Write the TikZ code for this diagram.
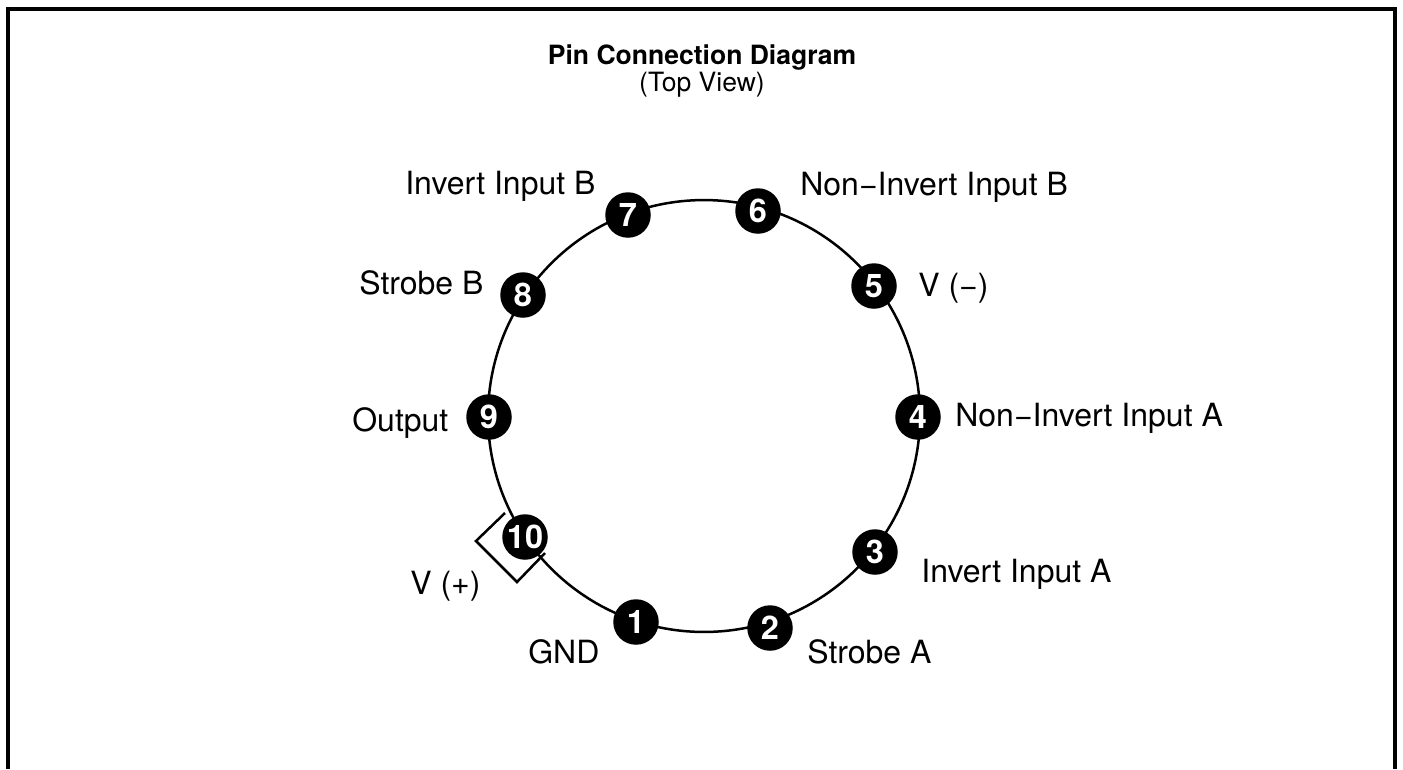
\documentclass[tikz,border=0pt]{standalone}
\usepackage{fontspec}
\setmainfont{TeX Gyre Heros}
\usepackage{tikz}
\usetikzlibrary{positioning}

\begin{document}
\begin{tikzpicture}[
    x=0.02cm, y=-0.02cm,
    pin/.style={circle, fill=black, text=white, minimum size=0.91cm, inner sep=0pt,
                font=\fontsize{18.5}{20}\selectfont\bfseries},
    pinlabel/.style={anchor=base west, inner sep=0pt, font=\fontsize{18.2}{21}\selectfont},
    heading/.style={anchor=base, inner sep=0pt, font=\fontsize{15.1}{18}\selectfont}
  ]
    \useasboundingbox (0,0) rectangle (1403,769);

    % Frame
    \draw[line width=0.08cm] (8,769) -- (8,9) -- (1395,9) -- (1395,769);

    % Title
    \node[heading] (title) at (702,64) {\textbf{Pin Connection Diagram}};
    \node[heading] (view)  at (702,91) {(Top View)};

    % Ring
    \node[circle, draw, line width=0.05cm, minimum size=8.64cm, inner sep=0pt] (ring) at (704,416) {};

    % Notch
    \draw[line width=0.05cm] (505,513) -- (476,541) -- (517,582) -- (545,553);

    % Pins
    \node[pin] (p1)  at (636,622) {1};
    \node[pin] (p2)  at (770,628) {2};
    \node[pin] (p3)  at (875,552) {3};
    \node[pin] (p4)  at (918,417) {4};
    \node[pin] (p5)  at (874,286) {5};
    \node[pin] (p6)  at (758,211) {6};
    \node[pin] (p7)  at (628,215) {7};
    \node[pin] (p8)  at (523,295) {8};
    \node[pin] (p9)  at (489,417) {9};
    \node[pin] (p10) at (525,537) {10};

    % Labels
    \node[pinlabel] (l1)  at (528,663) {GND};
    \node[pinlabel] (l2)  at (807,663) {Strobe A};
    \node[pinlabel] (l3)  at (921,582) {Invert Input A};
    \node[pinlabel] (l4)  at (955,426) {Non−Invert Input A};
    \node[pinlabel] (l5)  at (918,296) {V (−)};
    \node[pinlabel] (l6)  at (800,195) {Non−Invert Input B};
    \node[pinlabel] (l7)  at (405,194) {Invert Input B};
    \node[pinlabel] (l8)  at (359,294) {Strobe B};
    \node[pinlabel] (l9)  at (352,431) {Output};
    \node[pinlabel] (l10) at (410,594) {V (+)};
  \end{tikzpicture}
\end{document}
